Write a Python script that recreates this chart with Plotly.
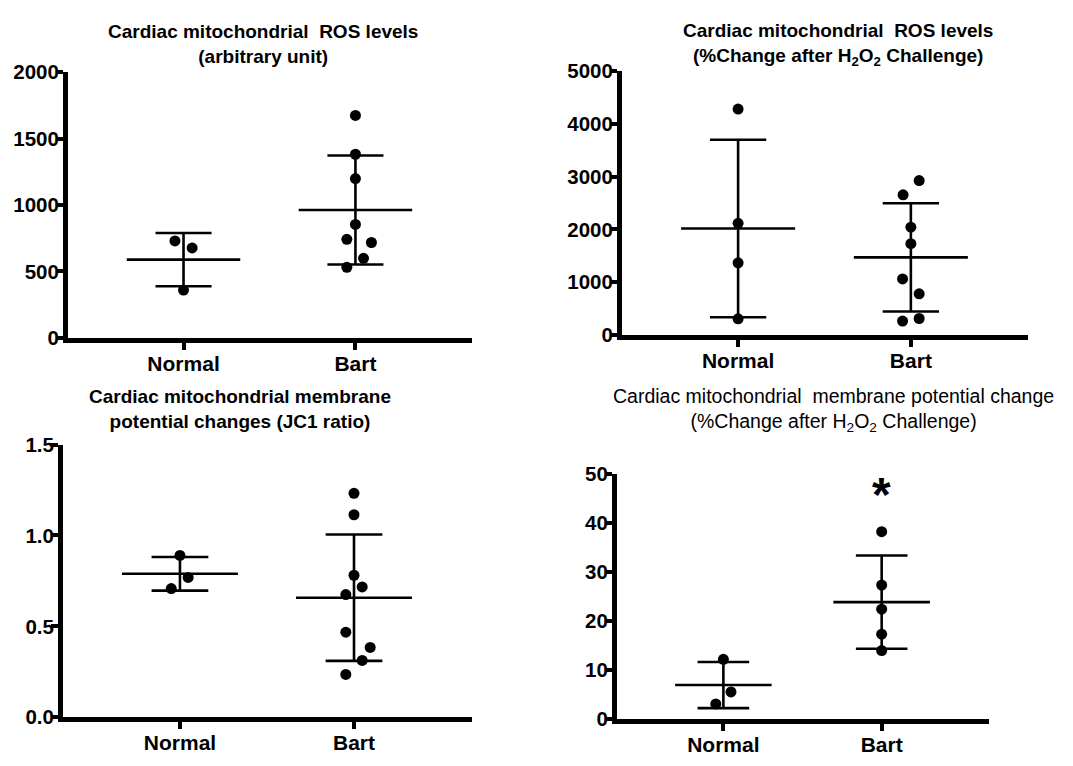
import numpy as np
import plotly.graph_objects as go

# ---------------- data ----------------
categories = ["Normal", "Bart"]

ros_normal = [730, 677, 360]
ros_bart = [1674, 1382, 1199, 854, 742, 718, 599, 531]

ros_h2o2_normal = [4282, 2116, 1369, 307]
ros_h2o2_bart = [2926, 2657, 2043, 1730, 1062, 780, 313, 265]

jc1_normal = [0.890, 0.769, 0.708]
jc1_bart = [1.232, 1.114, 0.781, 0.717, 0.675, 0.468, 0.384, 0.312, 0.235]

mmp_h2o2_normal = [12.18, 5.53, 3.10]
mmp_h2o2_bart = [38.2, 27.3, 22.4, 17.3, 13.96]

y_ticks_ros = [0, 500, 1000, 1500, 2000]
y_ticks_ros_h2o2 = [0, 1000, 2000, 3000, 4000, 5000]
y_ticks_jc1 = [0.0, 0.5, 1.0, 1.5]
y_ticks_mmp = [0, 10, 20, 30, 40, 50]

# horizontal scatter offsets of the dots (in category units)
ros_normal_jit = [-0.05, 0.05, 0.0]
ros_bart_jit = [0.0, 0.0, 0.0, 0.0, -0.05, 0.093, 0.047, -0.05]
ros_h2o2_normal_jit = [0.0, 0.0, 0.0, 0.0]
ros_h2o2_bart_jit = [0.048, -0.045, 0.0, 0.0, -0.048, 0.048, 0.048, -0.048]
jc1_normal_jit = [0.0, 0.047, -0.05]
jc1_bart_jit = [0.0, 0.0, 0.0, 0.047, -0.047, -0.047, 0.093, 0.047, -0.047]
mmp_normal_jit = [0.0, 0.048, -0.048]
mmp_bart_jit = [0.0, 0.0, 0.0, 0.0, 0.0]

W, H = 1073, 766
FONT = "Liberation Sans, Arial, sans-serif"


def px_x(p):
    return p / W


def px_y(p):
    return 1 - p / H


panels = [
    dict(data=[ros_normal, ros_bart], jit=[ros_normal_jit, ros_bart_jit],
         ticks=y_ticks_ros, fmt="", xdom=(68, 472), ydom=(336, 62),
         title="Cardiac mitochondrial  ROS levels<br>(arbitrary unit)",
         tx=263, ty=33, tweight="bold", tsize=19, mhw=0.33),
    dict(data=[ros_h2o2_normal, ros_h2o2_bart], jit=[ros_h2o2_normal_jit, ros_h2o2_bart_jit],
         ticks=y_ticks_ros_h2o2, fmt="", xdom=(622, 1028), ydom=(333, 61),
         title="Cardiac mitochondrial  ROS levels<br>(%Change after H<sub>2</sub>O<sub>2</sub> Challenge)",
         tx=838, ty=33, tweight="bold", tsize=19, mhw=0.33),
    dict(data=[jc1_normal, jc1_bart], jit=[jc1_normal_jit, jc1_bart_jit],
         ticks=y_ticks_jc1, fmt=".1f", xdom=(63, 472), ydom=(727, 446),
         title="Cardiac mitochondrial membrane<br>potential changes (JC1 ratio)",
         tx=240, ty=409, tweight="bold", tsize=19, mhw=0.333),
    dict(data=[mmp_h2o2_normal, mmp_h2o2_bart], jit=[mmp_normal_jit, mmp_bart_jit],
         ticks=y_ticks_mmp, fmt="", xdom=(617, 989), ydom=(729, 476),
         title="Cardiac mitochondrial  membrane potential change<br>(%Change after H<sub>2</sub>O<sub>2</sub> Challenge)",
         tx=833, ty=410, tweight="normal", tsize=19.5, mhw=0.305),
]

CAP_HW = 0.163

fig = go.Figure()
annotations = []
layout_axes = {}

for i, p in enumerate(panels):
    n = i + 1
    xa = "x" if n == 1 else f"x{n}"
    ya = "y" if n == 1 else f"y{n}"
    for gi, (vals, jit) in enumerate(zip(p["data"], p["jit"])):
        vals = np.asarray(vals, dtype=float)
        xs = [gi + j for j in jit]
        m = vals.mean()
        sd = vals.std(ddof=1)
        lx = [gi - p["mhw"], gi + p["mhw"], None,
              gi - CAP_HW, gi + CAP_HW, None,
              gi - CAP_HW, gi + CAP_HW, None,
              gi, gi]
        ly = [m, m, None, m + sd, m + sd, None, m - sd, m - sd, None, m - sd, m + sd]
        fig.add_trace(go.Scatter(x=lx, y=ly, mode="lines", xaxis=xa, yaxis=ya,
                                 line=dict(color="black", width=2.6),
                                 showlegend=False, hoverinfo="skip", cliponaxis=False))
        fig.add_trace(go.Scatter(x=xs, y=vals, mode="markers", xaxis=xa, yaxis=ya,
                                 marker=dict(color="black", size=11, line=dict(width=0)),
                                 showlegend=False, cliponaxis=False,
                                 name=categories[gi]))

    xkey = "xaxis" if n == 1 else f"xaxis{n}"
    ykey = "yaxis" if n == 1 else f"yaxis{n}"
    layout_axes[xkey] = dict(
        domain=[px_x(p["xdom"][0]), px_x(p["xdom"][1])],
        anchor=ya, range=[-0.672, 1.678],
        tickvals=[0, 1], ticktext=categories,
        ticks="outside", ticklen=7, tickwidth=4, tickcolor="black",
        showline=True, linewidth=5, linecolor="black",
        showgrid=False, zeroline=False, ticklabelstandoff=-4,
        tickfont=dict(family=FONT, size=21, color="black", weight="bold"),
    )
    layout_axes[ykey] = dict(
        domain=[px_y(p["ydom"][0]), px_y(p["ydom"][1])],
        anchor=xa, range=[p["ticks"][0], p["ticks"][-1]],
        tickvals=p["ticks"], tickformat=p["fmt"] if p["fmt"] else None,
        ticks="outside", ticklen=7, tickwidth=4, tickcolor="black",
        showline=True, linewidth=5, linecolor="black",
        showgrid=False, zeroline=False, ticklabelstandoff=-7,
        tickfont=dict(family=FONT, size=20.5, color="black", weight="bold"),
    )
    annotations.append(dict(
        text=p["title"], xref="paper", yref="paper",
        x=px_x(p["tx"]), y=px_y(p["ty"]), xanchor="center", yanchor="middle",
        showarrow=False, align="center",
        font=dict(family=FONT, size=p["tsize"], color="black", weight=p["tweight"]),
    ))

# significance star above Bart in panel 4
annotations.append(dict(
    text="*", xref="x4", yref="y4", x=1, y=45.8, xanchor="center", yanchor="middle",
    showarrow=False, font=dict(family=FONT, size=48, color="black", weight="bold"),
))

fig.update_layout(
    width=W, height=H,
    margin=dict(l=0, r=0, t=0, b=0),
    paper_bgcolor="white", plot_bgcolor="white",
    annotations=annotations,
    **layout_axes,
)

fig.write_html(
    "out.html",
    config={"displayModeBar": False},
    post_script=(
        "document.documentElement.style.margin='0';"
        "document.body.style.margin='0';document.body.style.overflow='hidden';"
        "var d=document.getElementById('{plot_id}');"
        "d.style.position='fixed';d.style.top='0px';d.style.left='0px';"
    ),
)
